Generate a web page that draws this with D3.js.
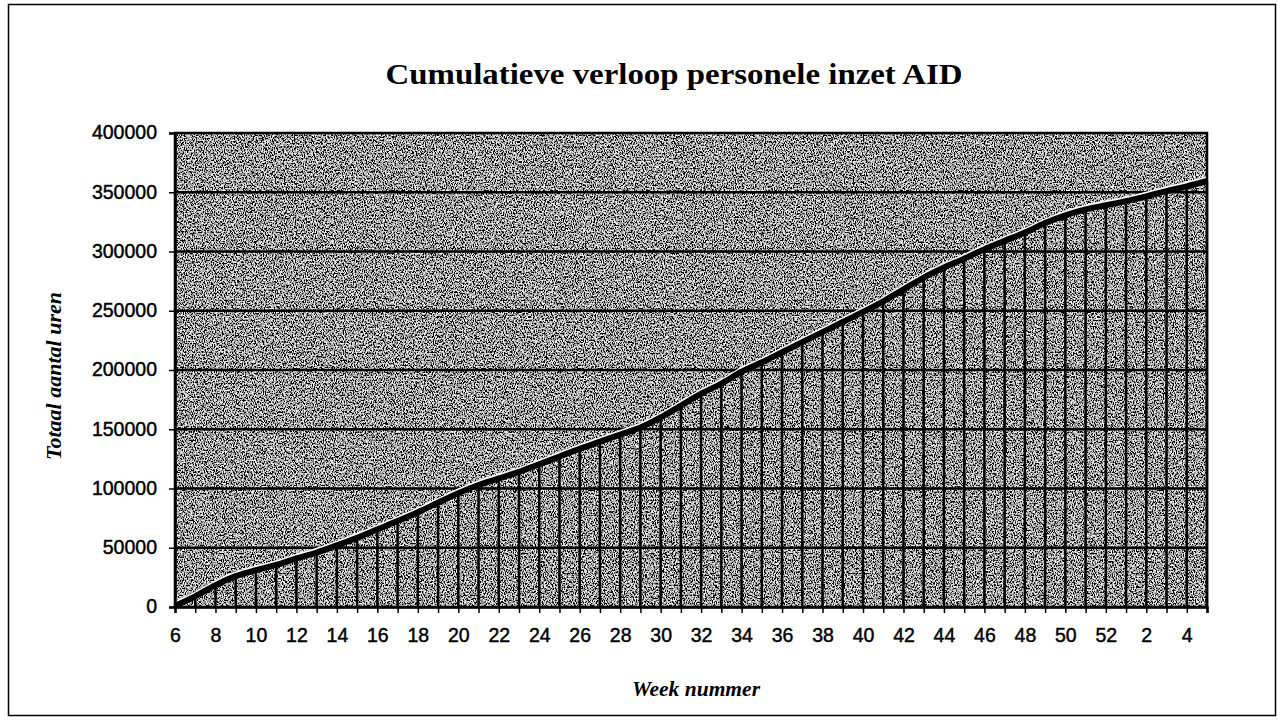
<!DOCTYPE html>
<html>
<head>
<meta charset="utf-8">
<script src="https://cdn.jsdelivr.net/npm/d3@7"></script>
<style>
  html, body { margin: 0; padding: 0; background: #fff; }
  svg { display: block; }
</style>
</head>
<body>
<svg id="chart" width="1283" height="722"></svg>
<script>
// Week numbers: week 6 of year one through week 5 of the next year
const weeks = [
  "6","7","8","9","10","11","12","13","14","15","16","17","18","19","20",
  "21","22","23","24","25","26","27","28","29","30","31","32","33","34","35",
  "36","37","38","39","40","41","42","43","44","45","46","47","48","49","50",
  "51","52","1","2","3","4","5"
];

// Cumulative hours (totaal aantal uren) per week
const hours = [
  1000, 9000, 18500, 26000, 31000, 35500, 41000, 46000, 52000, 58500,
  65500, 72500, 80000, 88000, 96000, 103000, 108500, 114000, 120500, 127000,
  133500, 139500, 145500, 151500, 160000, 170000, 180000, 188500, 198500, 206500,
  215000, 223500, 232000, 240500, 249000, 258000, 268000, 278000, 286500, 294000,
  302000, 309000, 316000, 324000, 330500, 335500, 339000, 342500, 346500, 351000,
  355000, 359500
];

// Labelled weeks on the x axis (every second week)
const weekTickLabels = ["6","8","10","12","14","16","18","20","22","24","26","28","30",
  "32","34","36","38","40","42","44","46","48","50","52","2","4"];

// Y axis ticks
const hourTicks = [0, 50000, 100000, 150000, 200000, 250000, 300000, 350000, 400000];

const titleText = "Cumulatieve verloop personele inzet AID";
const yTitle = "Totaal aantal uren";
const xTitle = "Week nummer";

const svg = d3.select("#chart");
const plot = { left: 175, right: 1207, top: 133, bottom: 607 };

const x = d3.scalePoint().domain(weeks).range([plot.left, plot.right]);
const y = d3.scaleLinear().domain([0, 400000]).range([plot.bottom, plot.top]);

// Outer chart frame
svg.append("rect")
  .attr("x", 8.5).attr("y", 4.5)
  .attr("width", 1267).attr("height", 711)
  .attr("fill", "#fff").attr("stroke", "#000").attr("stroke-width", 1.5);

// Grainy grey fill of the plot area
const defs = svg.append("defs");
const grain = defs.append("filter").attr("id", "grain")
  .attr("filterUnits", "objectBoundingBox")
  .attr("x", 0).attr("y", 0).attr("width", 1).attr("height", 1);
grain.append("feTurbulence")
  .attr("type", "fractalNoise").attr("baseFrequency", "0.9 0.6")
  .attr("numOctaves", 2).attr("seed", 7).attr("result", "noise");
grain.append("feColorMatrix")
  .attr("in", "noise").attr("type", "matrix")
  .attr("values", "3.6 0 0 0 -1.45  3.6 0 0 0 -1.45  3.6 0 0 0 -1.45  0 0 0 0 1");

svg.append("rect")
  .attr("x", plot.left).attr("y", plot.top)
  .attr("width", plot.right - plot.left).attr("height", plot.bottom - plot.top)
  .attr("fill", "#7a7a7a")
  .attr("filter", "url(#grain)");

// Horizontal gridlines
svg.append("g")
  .selectAll("line")
  .data(hourTicks.filter(d => d > 0 && d < 400000))
  .join("line")
  .attr("x1", plot.left).attr("x2", plot.right)
  .attr("y1", d => y(d)).attr("y2", d => y(d))
  .attr("stroke", "#000").attr("stroke-width", 2.5);

// Drop lines from each weekly value down to the axis
svg.append("g")
  .selectAll("line")
  .data(weeks)
  .join("line")
  .attr("x1", d => x(d)).attr("x2", d => x(d))
  .attr("y1", (d, i) => y(hours[i])).attr("y2", plot.bottom)
  .attr("stroke", "#000").attr("stroke-width", 2.5);

// Cumulative line with a light edge above it
const line = d3.line()
  .x((d, i) => x(weeks[i]))
  .y(d => y(d))
  .curve(d3.curveMonotoneX);

svg.append("path")
  .datum(hours)
  .attr("d", line)
  .attr("transform", "translate(0,-3.5)")
  .attr("fill", "none")
  .attr("stroke", "#fff").attr("stroke-width", 2.5);

svg.append("path")
  .datum(hours)
  .attr("d", line)
  .attr("fill", "none")
  .attr("stroke", "#000").attr("stroke-width", 6)
  .attr("stroke-linejoin", "round");

// Plot area border
svg.append("rect")
  .attr("x", plot.left).attr("y", plot.top)
  .attr("width", plot.right - plot.left).attr("height", plot.bottom - plot.top)
  .attr("fill", "none").attr("stroke", "#000").attr("stroke-width", 2.5);

const tickFont = g => g
  .attr("font-family", "Liberation Sans, Arial, sans-serif")
  .attr("font-size", "19.5px").attr("fill", "#000")
  .attr("stroke", "#000").attr("stroke-width", 0.45);

// Y axis
const yAxis = d3.axisLeft(y).tickValues(hourTicks).tickFormat(d3.format("d"))
  .tickSize(6).tickPadding(12);
const gy = svg.append("g").attr("transform", `translate(${plot.left},0)`).call(yAxis);
gy.select(".domain").attr("stroke", "#000").attr("stroke-width", 2.5);
gy.selectAll(".tick line").attr("stroke", "#000").attr("stroke-width", 1.5);
gy.selectAll(".tick text").call(tickFont).attr("dy", "0.3em");

// X axis
const xAxis = d3.axisBottom(x)
  .tickFormat(d => weekTickLabels.includes(d) ? d : "")
  .tickSize(6).tickPadding(15);
const gx = svg.append("g").attr("transform", `translate(0,${plot.bottom})`).call(xAxis);
gx.select(".domain").attr("stroke", "#000").attr("stroke-width", 2.5);
gx.selectAll(".tick line").attr("stroke", "#000").attr("stroke-width", 1.5);
gx.selectAll(".tick text").call(tickFont);

// Title
svg.append("text")
  .attr("x", 674).attr("y", 84)
  .attr("text-anchor", "middle")
  .attr("font-family", "Liberation Serif, Times New Roman, serif")
  .attr("font-weight", "bold").attr("font-size", "30px")
  .attr("textLength", 577).attr("lengthAdjust", "spacingAndGlyphs")
  .text(titleText);

// Axis titles
svg.append("text")
  .attr("transform", "translate(61,376) rotate(-90)")
  .attr("text-anchor", "middle")
  .attr("font-family", "Liberation Serif, Times New Roman, serif")
  .attr("font-weight", "bold").attr("font-style", "italic").attr("font-size", "21px")
  .attr("textLength", 168).attr("lengthAdjust", "spacingAndGlyphs")
  .text(yTitle);

svg.append("text")
  .attr("x", 696).attr("y", 696)
  .attr("text-anchor", "middle")
  .attr("font-family", "Liberation Serif, Times New Roman, serif")
  .attr("font-weight", "bold").attr("font-style", "italic").attr("font-size", "21px")
  .attr("textLength", 128).attr("lengthAdjust", "spacingAndGlyphs")
  .text(xTitle);
</script>
</body>
</html>
